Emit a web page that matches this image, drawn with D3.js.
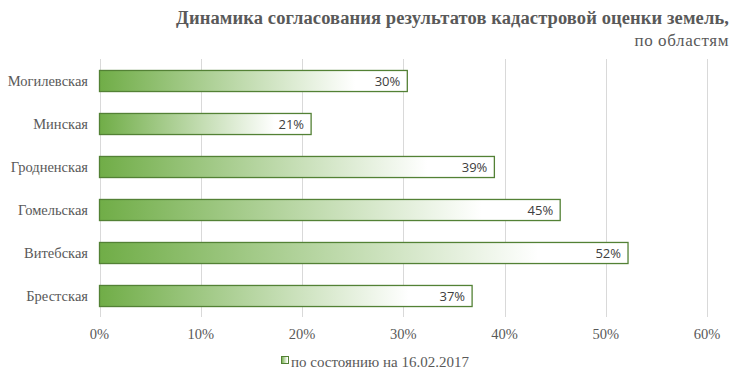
<!DOCTYPE html>
<html><head><meta charset="utf-8">
<script src="https://cdn.jsdelivr.net/npm/d3@7"></script>
<style>body{margin:0;background:#fff}svg{display:block}</style>
</head><body>
<svg id="c" width="739" height="381"></svg>
<script>
const categories = ["Могилевская","Минская","Гродненская","Гомельская","Витебская","Брестская"];
const values = [30.4, 20.9, 39.0, 45.5, 52.2, 36.8];
const valueLabels = ["30%","21%","39%","45%","52%","37%"];
const ticks = [0,10,20,30,40,50,60];
const tickLabels = ["0%","10%","20%","30%","40%","50%","60%"];
const seriesName = "по состоянию на 16.02.2017";
const titleLine1 = "Динамика согласования результатов кадастровой оценки земель,";
const titleLine2 = "по областям";

const svg = d3.select("#c");
const serif = "\"Times New Roman\", \"Liberation Serif\", \"DejaVu Serif\", serif";
const x = d3.scaleLinear().domain([0,60]).range([99.5,707]);
const y = d3.scaleBand().domain(categories).range([59,317]).paddingInner(0.51).paddingOuter(0.255);

const defs = svg.append("defs");
const g = defs.append("linearGradient").attr("id","gr").attr("x1","0").attr("x2","1").attr("y1","0").attr("y2","0");
g.append("stop").attr("offset","0").attr("stop-color","#70ad47");
g.append("stop").attr("offset","0.83").attr("stop-color","#ffffff");
g.append("stop").attr("offset","1").attr("stop-color","#ffffff");

svg.append("g").selectAll("line").data(ticks).join("line")
  .attr("x1",d=>Math.round(x(d))+0.5).attr("x2",d=>Math.round(x(d))+0.5)
  .attr("y1",59).attr("y2",317).attr("stroke","#d9d9d9").attr("stroke-width",1);

svg.append("g").selectAll("text").data(ticks).join("text")
  .attr("x",d=>x(d)).attr("y",339).attr("text-anchor","middle")
  .style("font-family",serif).style("font-size","14.5px").attr("fill","#595959")
  .text((d,i)=>tickLabels[i]);

svg.append("g").selectAll("rect").data(categories).join("rect")
  .attr("x",x(0)).attr("y",d=>y(d)+0.5)
  .attr("width",(d,i)=>x(values[i])-x(0)).attr("height",y.bandwidth())
  .attr("fill","url(#gr)").attr("stroke","#538135").attr("stroke-width",1.3);

svg.append("g").selectAll("text").data(categories).join("text")
  .attr("x",(d,i)=>x(values[i])-7).attr("y",d=>y(d)+y.bandwidth()/2+5)
  .attr("text-anchor","end").style("font-family","\"Open Sans\", \"Liberation Sans\", sans-serif")
  .style("font-size","13px").attr("fill","#404040")
  .text((d,i)=>valueLabels[i]);

svg.append("g").selectAll("text").data(categories).join("text")
  .attr("x",88).attr("y",d=>y(d)+y.bandwidth()/2+5)
  .attr("text-anchor","end").style("font-family",serif).style("font-size","14.5px").attr("fill","#595959")
  .text(d=>d);

svg.append("text").attr("x",729).attr("y",24).attr("text-anchor","end")
  .style("font-family",serif).style("font-size","18.5px").style("font-weight","bold").attr("fill","#595959")
  .style("letter-spacing","0.1px").text(titleLine1);
svg.append("text").attr("x",729).attr("y",46).attr("text-anchor","end")
  .style("font-family",serif).style("font-size","17px").attr("fill","#595959")
  .style("letter-spacing","0.6px").text(titleLine2);

const lg = svg.append("g");
lg.append("rect").attr("x",281.5).attr("y",356.5).attr("width",7).attr("height",7)
  .attr("fill","url(#gr)").attr("stroke","#538135").attr("stroke-width",1);
lg.append("text").attr("x",291).attr("y",367).style("font-family",serif).style("font-size","15px")
  .attr("fill","#595959").text(seriesName);
</script>
</body></html>
